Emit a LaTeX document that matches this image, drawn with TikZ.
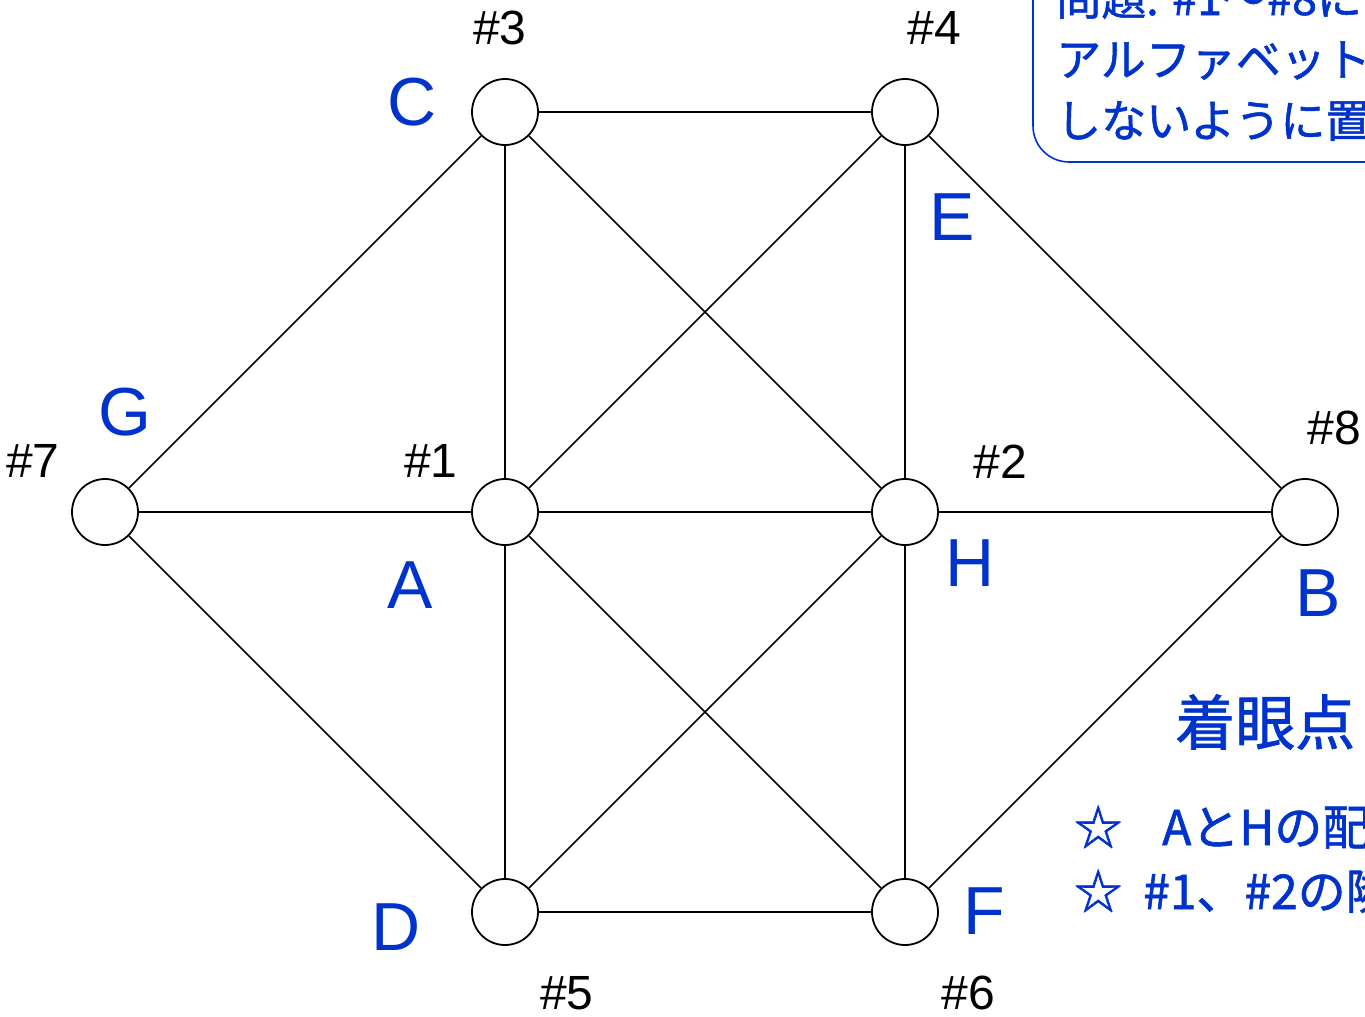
\documentclass[tikz,border=0pt]{standalone}
\usepackage{fontspec}
\setmainfont{Liberation Sans}
\newfontfamily\jp[FakeBold=1.2]{Noto Sans CJK JP}
\definecolor{lblblue}{RGB}{0,51,204}
\begin{document}
\begin{tikzpicture}[x=1pt,y=-1pt,
  vtx/.style={circle,draw=black,line width=1.8pt,fill=white,minimum size=66pt,inner sep=0pt},
  edge/.style={line width=1.5pt,draw=black},
  numlbl/.style={inner sep=0pt,font=\fontsize{48}{56}\selectfont,text=black},
  letlbl/.style={inner sep=0pt,font=\fontsize{68}{78}\selectfont,text=lblblue},
  jptext/.style={inner sep=0pt,anchor=west,text=lblblue}]
\clip (0,0) rectangle (1365,1017);
\fill[white] (0,0) rectangle (1365,1017);
% vertices
\node[vtx] (v1) at (505,512) {};
\node[vtx] (v2) at (905,512) {};
\node[vtx] (v3) at (505,112) {};
\node[vtx] (v4) at (905,112) {};
\node[vtx] (v5) at (505,912) {};
\node[vtx] (v6) at (905,912) {};
\node[vtx] (v7) at (105,512) {};
\node[vtx] (v8) at (1305,512) {};
% edges
\draw[edge] (v3) -- (v4);
\draw[edge] (v3) -- (v1);
\draw[edge] (v3) -- (v7);
\draw[edge] (v3) -- (v2);
\draw[edge] (v4) -- (v1);
\draw[edge] (v4) -- (v2);
\draw[edge] (v4) -- (v8);
\draw[edge] (v7) -- (v1);
\draw[edge] (v1) -- (v2);
\draw[edge] (v2) -- (v8);
\draw[edge] (v7) -- (v5);
\draw[edge] (v1) -- (v5);
\draw[edge] (v1) -- (v6);
\draw[edge] (v2) -- (v5);
\draw[edge] (v2) -- (v6);
\draw[edge] (v5) -- (v6);
\draw[edge] (v6) -- (v8);
% number labels
\node[numlbl] (n3) at (500,28) {\#3};
\node[numlbl] (n4) at (934,28) {\#4};
\node[numlbl] (n7) at (33,461) {\#7};
\node[numlbl] (n1) at (431,461) {\#1};
\node[numlbl] (n2) at (1000,462) {\#2};
\node[numlbl] (n8) at (1334,428) {\#8};
\node[numlbl] (n5) at (567,993) {\#5};
\node[numlbl] (n6) at (968,993) {\#6};
% letter labels
\node[letlbl] (lC) at (412,102) {C};
\node[letlbl] (lE) at (952,217) {E};
\node[letlbl] (lG) at (125,412) {G};
\node[letlbl] (lA) at (410,585) {A};
\node[letlbl] (lH) at (970,563) {H};
\node[letlbl] (lB) at (1318,593) {B};
\node[letlbl] (lD) at (396,927) {D};
\node[letlbl] (lF) at (984,911) {F};
% problem box
\draw[draw=lblblue,line width=1.6pt,rounded corners=36pt] (1033,-60) rectangle (1420,162);
\node[jptext,font=\jp\fontsize{45}{54}\selectfont] (q1) at (1056,-1) {問題: \#1～\#8に};
\node[jptext,font=\jp\fontsize{45}{54}\selectfont] (q2) at (1056,60) {アルファベットを};
\node[jptext,font=\jp\fontsize{45}{54}\selectfont] (q3) at (1056,121) {しないように置};
% hints
\node[jptext,font=\jp\fontsize{60}{70}\selectfont] (h0) at (1175,722) {着眼点};
\node[jptext,anchor=base west,font=\jp\fontsize{48}{56}\selectfont] (h1) at (1074,845) {☆\hspace{40pt}AとHの配置};
\node[jptext,anchor=base west,font=\jp\fontsize{48}{56}\selectfont] (h2) at (1074,909) {☆\hspace{21pt}\#1、\#2の隣};
\end{tikzpicture}
\end{document}
